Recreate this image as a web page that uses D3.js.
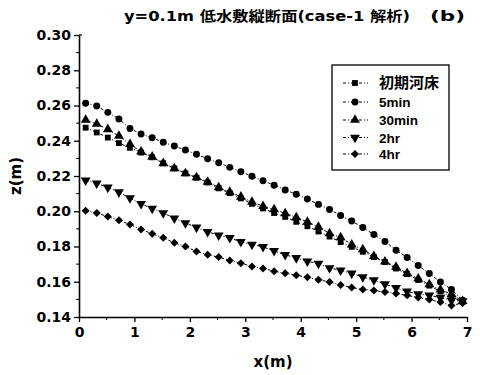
<!DOCTYPE html>
<html>
<head>
<meta charset="utf-8">
<script src="https://cdn.jsdelivr.net/npm/d3@7"></script>
<style>
body { margin: 0; background: #fff; }
</style>
</head>
<body>
<svg id="chart" width="480" height="375"></svg>
<script>
var width = 480,
	height = 375,
	margin = {top: 35, right: 13, bottom: 58, left: 79};

// x positions of the measured points (m)
var xPos = [0.12, 0.32, 0.52, 0.72, 0.92, 1.12, 1.32, 1.52, 1.72, 1.92,
	2.12, 2.32, 2.52, 2.72, 2.92, 3.12, 3.32, 3.52, 3.72, 3.92,
	4.12, 4.32, 4.52, 4.72, 4.92, 5.12, 5.32, 5.52, 5.72, 5.92,
	6.12, 6.32, 6.52, 6.72, 6.92];

var seriesNames = ["初期河床", "5min", "30min", "2hr", "4hr"];

var zInit = [0.2474, 0.2447, 0.2418, 0.2387, 0.2360, 0.2333, 0.2306, 0.2272, 0.2243, 0.2215,
	0.2190, 0.2163, 0.2130, 0.2103, 0.2073, 0.2042, 0.2016, 0.1990, 0.1968, 0.1940,
	0.1915, 0.1885, 0.1856, 0.1825, 0.1798, 0.1770, 0.1740, 0.1712, 0.1675, 0.1643,
	0.1610, 0.1578, 0.1545, 0.1515, 0.1485];

var z5min = [0.2613, 0.2597, 0.2561, 0.2523, 0.2470, 0.2438, 0.2417, 0.2391, 0.2370, 0.2347,
	0.2323, 0.2298, 0.2275, 0.2249, 0.2224, 0.2199, 0.2173, 0.2148, 0.2121, 0.2097,
	0.2069, 0.2039, 0.2010, 0.1976, 0.1945, 0.1908, 0.1868, 0.1828, 0.1779, 0.1738,
	0.1692, 0.1647, 0.1599, 0.1556, 0.1495];

var z30min = [0.2518, 0.2495, 0.2465, 0.2427, 0.2380, 0.2338, 0.2309, 0.2272, 0.2243, 0.2215,
	0.2192, 0.2167, 0.2135, 0.2110, 0.2082, 0.2053, 0.2029, 0.2010, 0.1988, 0.1965,
	0.1940, 0.1911, 0.1874, 0.1851, 0.1811, 0.1783, 0.1745, 0.1714, 0.1684, 0.1648,
	0.1618, 0.1585, 0.1555, 0.1530, 0.1490];

var z2hr = [0.2175, 0.2158, 0.2135, 0.2108, 0.2075, 0.2042, 0.2015, 0.1990, 0.1960, 0.1933,
	0.1908, 0.1883, 0.1864, 0.1849, 0.1826, 0.1811, 0.1798, 0.1775, 0.1753, 0.1735,
	0.1716, 0.1703, 0.1678, 0.1665, 0.1647, 0.1627, 0.1609, 0.1587, 0.1565, 0.1545,
	0.1530, 0.1523, 0.1510, 0.1495, 0.1490];

var z4hr = [0.2003, 0.1990, 0.1970, 0.1949, 0.1925, 0.1897, 0.1872, 0.1849, 0.1821, 0.1800,
	0.1772, 0.1753, 0.1740, 0.1720, 0.1705, 0.1687, 0.1675, 0.1660, 0.1648, 0.1637,
	0.1625, 0.1611, 0.1599, 0.1582, 0.1567, 0.1556, 0.1550, 0.1542, 0.1533, 0.1523,
	0.1510, 0.1499, 0.1485, 0.1465, 0.1480];

var xTicks = [0, 1, 2, 3, 4, 5, 6, 7],
	yTicks = [0.14, 0.16, 0.18, 0.20, 0.22, 0.24, 0.26, 0.28, 0.30];

var seriesValues = [zInit, z5min, z30min, z2hr, z4hr];
var symbols = ["square", "circle", "up", "down", "diamond"];

var svg = d3.select("#chart");

var x = d3.scaleLinear()
		.domain([0, 7])
		.range([margin.left, width - margin.right]),
	y = d3.scaleLinear()
		.domain([0.14, 0.30])
		.range([height - margin.bottom, margin.top]);

var tickFont = "'DejaVu Sans', sans-serif";

// marker path for each symbol type
function markerPath(type) {
	if (type == "square") return d3.symbol(d3.symbolSquare, 34)();
	if (type == "circle") return d3.symbol(d3.symbolCircle, 38)();
	if (type == "up" || type == "down") return d3.symbol(d3.symbolTriangle, 42)();
	return d3.symbol(d3.symbolSquare, 32)();
}
function markerRotate(type) {
	if (type == "down") return 180;
	if (type == "diamond") return 45;
	return 0;
}

// series lines + markers
var line = d3.line()
	.x(function(d, i) { return x(xPos[i]); })
	.y(function(d) { return y(d); });

seriesValues.forEach(function(vals, s) {
	svg.append("path")
		.attr("d", line(vals))
		.attr("fill", "none")
		.attr("stroke", "#000")
		.attr("stroke-width", 1)
		.attr("stroke-dasharray", "3,2,1,2");

	svg.append("g").selectAll("path")
		.data(vals)
		.enter()
		.append("path")
		.attr("d", markerPath(symbols[s]))
		.attr("transform", function(d, i) {
			return "translate(" + x(xPos[i]) + "," + y(d) + ") rotate(" + markerRotate(symbols[s]) + ")";
		})
		.attr("fill", "#000");
});

// axes
var xAxis = svg.append("g")
	.attr("transform", "translate(0," + y(0.14) + ")")
	.call(d3.axisBottom(x).tickValues(xTicks).tickFormat(d3.format("d")).tickSize(5).tickSizeOuter(0));
var yAxis = svg.append("g")
	.attr("transform", "translate(" + x(0) + ",0)")
	.call(d3.axisLeft(y).tickValues(yTicks).tickFormat(d3.format(".2f")).tickSize(5).tickSizeOuter(0));

[xAxis, yAxis].forEach(function(ax) {
	ax.select(".domain").attr("stroke-width", 1.6);
	ax.selectAll(".tick line").attr("stroke-width", 1.3);
	ax.selectAll(".tick text")
		.attr("fill", "#000")
		.style("font-family", tickFont)
		.style("font-weight", "bold")
		.style("font-size", "14px");
});
yAxis.selectAll(".tick text").attr("x", -8);
xAxis.selectAll(".tick text").attr("y", 10);

// minor ticks
svg.append("g").selectAll("line")
	.data(x.ticks(14).filter(function(d) { return d % 1 != 0; }))
	.enter().append("line")
	.attr("x1", function(d) { return x(d); })
	.attr("x2", function(d) { return x(d); })
	.attr("y1", y(0.14))
	.attr("y2", y(0.14) + 3)
	.attr("stroke", "#000");
svg.append("g").selectAll("line")
	.data(y.ticks(16).filter(function(d) { return Math.round(d * 100) % 2 != 0; }))
	.enter().append("line")
	.attr("x1", x(0) - 3)
	.attr("x2", x(0))
	.attr("y1", function(d) { return y(d); })
	.attr("y2", function(d) { return y(d); })
	.attr("stroke", "#000");
// small stub at top of axis
svg.append("line")
	.attr("x1", x(0)).attr("x2", x(0) + 3)
	.attr("y1", y(0.30)).attr("y2", y(0.30))
	.attr("stroke", "#000").attr("stroke-width", 1.3);

// axis titles
svg.append("text")
	.attr("x", x(3.5))
	.attr("y", 367)
	.attr("text-anchor", "middle")
	.style("font-family", tickFont)
	.style("font-weight", "bold")
	.style("font-size", "15px")
	.text("x(m)");

svg.append("text")
	.attr("transform", "translate(21," + y(0.22) + ") rotate(-90)")
	.attr("text-anchor", "middle")
	.style("font-family", tickFont)
	.style("font-weight", "bold")
	.style("font-size", "15px")
	.text("z(m)");

// title
svg.append("text")
	.attr("x", 124)
	.attr("y", 20.5)
	.attr("textLength", 286)
	.attr("lengthAdjust", "spacingAndGlyphs")
	.style("font-family", "'DejaVu Sans', 'Noto Sans CJK JP', sans-serif")
	.style("font-weight", "bold")
	.style("font-size", "14px")
	.text("y=0.1m 低水敷縦断面(case-1 解析)");
svg.append("text")
	.attr("x", 430)
	.attr("y", 20.5)
	.attr("textLength", 35)
	.attr("lengthAdjust", "spacingAndGlyphs")
	.style("font-family", "'DejaVu Sans', sans-serif")
	.style("font-weight", "bold")
	.style("font-size", "14px")
	.text("(b)");

// legend
var legend = svg.append("g");
legend.append("rect")
	.attr("x", 332).attr("y", 65)
	.attr("width", 117).attr("height", 105)
	.attr("fill", "#fff")
	.attr("stroke", "#000")
	.attr("stroke-width", 1.3);

var legendY = [83, 102, 120, 137.5, 154];
seriesNames.forEach(function(name, s) {
	var ly = legendY[s];
	legend.append("line")
		.attr("x1", 343).attr("x2", 368)
		.attr("y1", ly).attr("y2", ly)
		.attr("stroke", "#000")
		.attr("stroke-dasharray", "3,2,1,2");
	legend.append("path")
		.attr("d", markerPath(symbols[s]))
		.attr("transform", "translate(355," + ly + ") rotate(" + markerRotate(symbols[s]) + ")")
		.attr("fill", "#000");
	legend.append("text")
		.attr("x", 379)
		.attr("y", ly + 5)
		.style("font-family", "'Liberation Sans', 'Noto Sans CJK JP', sans-serif")
		.style("font-weight", "bold")
		.style("font-size", s == 0 ? "15px" : "13.5px")
		.text(name);
});
</script>
</body>
</html>
